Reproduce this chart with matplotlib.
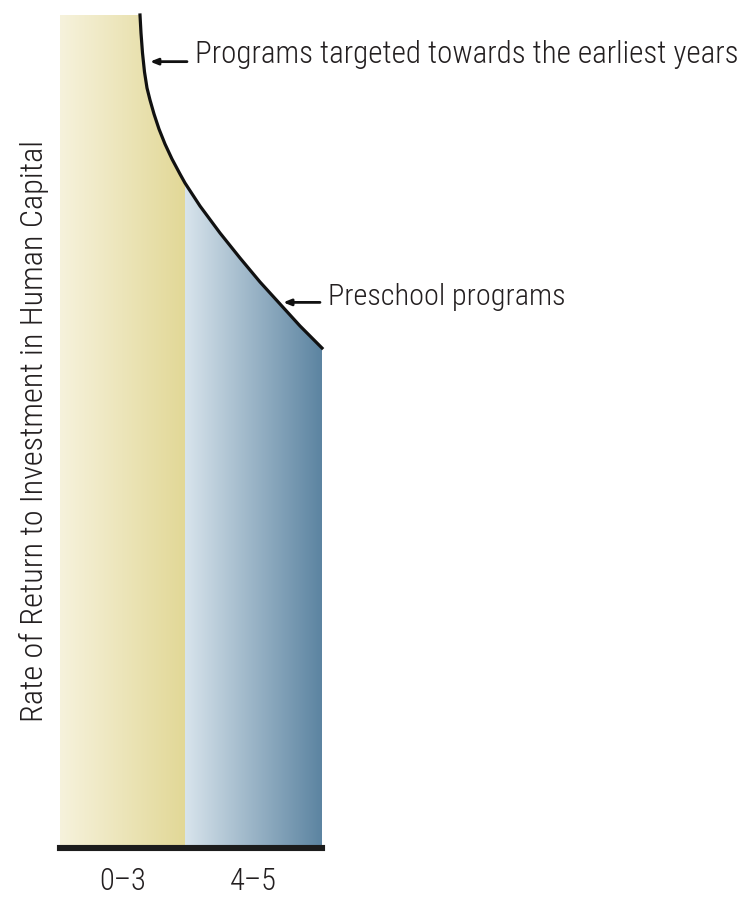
import matplotlib
matplotlib.use("Agg")
import matplotlib.pyplot as plt
import numpy as np
from matplotlib import font_manager
from matplotlib.colors import LinearSegmentedColormap
from matplotlib.patches import Polygon

# --- data -------------------------------------------------------------
age_groups = ["0\u20133", "4\u20135"]
group_edges = [0.0, 1.0, 2.096]          # horizontal extent of each age group
curve_x = [0.640, 0.648, 0.660, 0.676, 0.696, 0.720, 0.752, 0.792, 0.840,
           0.896, 0.960, 1.000, 1.120, 1.280, 1.440, 1.600, 1.760, 1.920, 2.096]
curve_y = [100.0, 97.84, 95.44, 93.16, 91.24, 89.80, 88.12, 86.31, 84.51,
           82.71, 80.91, 79.83, 77.07, 73.83, 70.83, 67.95, 65.31, 62.67, 60.02]
y_top = 100.0
labels = ["Programs targeted towards the earliest years", "Preschool programs"]
y_label = "Rate of Return to Investment in Human Capital"

# --- font: prefer a narrow sans ------------------------------------------
fonts = font_manager.fontManager.ttflist
names = {f.name for f in fonts}
family = None
for cand in ["Roboto Condensed", "Liberation Sans Narrow", "Open Sans Condensed",
             "Noto Sans Condensed", "DejaVu Sans Condensed"]:
    if cand in names:
        family = cand
        break
if family is None:
    family = "Liberation Sans" if "Liberation Sans" in names else "DejaVu Sans"
plt.rcParams["font.family"] = [family, "DejaVu Sans"]
plt.rcParams["font.weight"] = "light"
plt.rcParams["axes.labelweight"] = "light"
text_color = "#231f20"

fig = plt.figure(figsize=(7.41, 9.0), dpi=100)
ax = fig.add_axes([60 / 741, 52 / 900, 262 / 741, 833 / 900])
ax.set_xlim(group_edges[0], group_edges[-1])
ax.set_ylim(0, y_top)

cx = np.array(curve_x)
cy = np.array(curve_y)

# gradient-filled area under the curve for each age group
cmaps = [
    LinearSegmentedColormap.from_list("yel", ["#f6f2dc", "#e2d897"]),
    LinearSegmentedColormap.from_list("blu", ["#d8e4ec", "#5c84a1"]),
]
for i in range(2):
    x0, x1 = group_edges[i], group_edges[i + 1]
    inside = (cx >= x0) & (cx <= x1)
    pts = [(x0, 0)]
    if cx[inside].min() > x0:
        pts.append((x0, y_top))
    pts += list(zip(cx[inside], cy[inside]))
    pts.append((x1, 0))
    poly = Polygon(pts, closed=True, facecolor="none", edgecolor="none")
    ax.add_patch(poly)
    grad = np.linspace(0, 1, 256).reshape(1, -1)
    im = ax.imshow(grad, cmap=cmaps[i], aspect="auto",
                   extent=[x0, x1, 0, y_top], origin="lower", zorder=1)
    im.set_clip_path(poly)

# the return curve
ax.plot(cx, cy, color="#111111", lw=2.3, zorder=3, solid_joinstyle="round",
        clip_on=False)

# baseline
ax.axhline(0, color="#1c1c1c", lw=4.4, zorder=4, clip_on=False)

for s in ax.spines.values():
    s.set_visible(False)
ax.set_yticks([])
centers = [(group_edges[i] + group_edges[i + 1]) / 2 for i in range(2)]
ax.set_xticks(centers)
ax.set_xticklabels(age_groups, fontsize=20, color=text_color)
ax.tick_params(axis="x", length=0, pad=14)

ylab = ax.set_ylabel(y_label, fontsize=20, color=text_color, labelpad=8,
                     fontweight="light")

# annotations with arrows pointing at the curve
arrow_kw = dict(arrowstyle="-|>,head_length=0.45,head_width=0.18",
                color="#111111", lw=2.0, shrinkA=0, shrinkB=0)
ax.annotate("", xy=(0.72, 94.4), xytext=(1.016, 94.4),
            arrowprops=arrow_kw, annotation_clip=False)
t0 = ax.text(1.08, 94.2, labels[0], fontsize=20, color=text_color,
             va="baseline", ha="left", clip_on=False)
ax.annotate("", xy=(1.785, 65.5), xytext=(2.08, 65.5),
            arrowprops=arrow_kw, annotation_clip=False)
t1 = ax.text(2.144, 65.2, labels[1], fontsize=20, color=text_color,
             va="baseline", ha="left", clip_on=False)

# size each text so it spans its intended length
renderer = fig.canvas.get_renderer()
for txt, span, vertical, cap in [(t0, 540, False, 23), (t1, 237, False, 23),
                                 (ylab, 580, True, 24)]:
    bb = txt.get_window_extent(renderer)
    cur = bb.height if vertical else bb.width
    txt.set_fontsize(min(cap, txt.get_fontsize() * span / cur))
tick_texts = ax.get_xticklabels()
bb = tick_texts[0].get_window_extent(renderer)
tick_size = min(23, 20 * 47 / bb.width)
ax.tick_params(axis="x", labelsize=tick_size)

fig.savefig("out.png", dpi=100)
